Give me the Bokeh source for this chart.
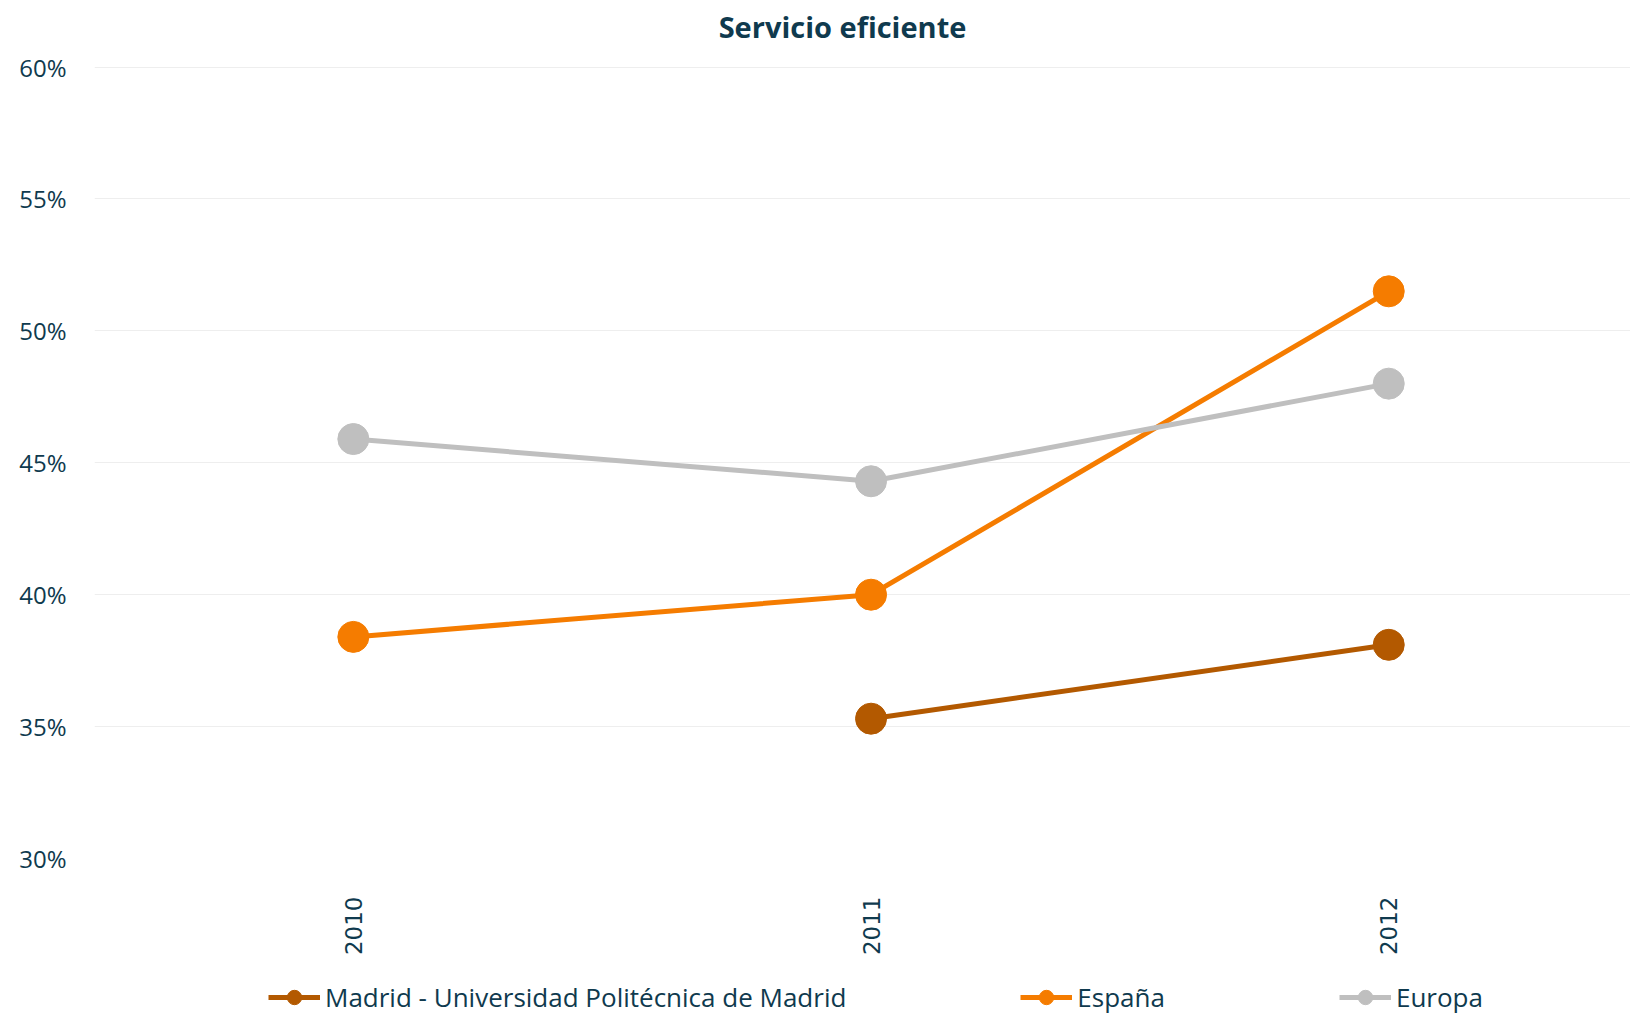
from bokeh.plotting import figure
from bokeh.layouts import column
from bokeh.models import ColumnDataSource, Legend, LegendItem, NumeralTickFormatter, FixedTicker, Label
from bokeh.embed import file_html
from bokeh.resources import INLINE
import math

years = [2010, 2011, 2012]
madrid = [None, 0.353, 0.381]
espana = [0.384, 0.400, 0.515]
europa = [0.459, 0.443, 0.480]
series_names = ["Madrid - Universidad Politécnica de Madrid", "España", "Europa"]
colors = ["#B35900", "#F57C00", "#BFBFBF"]
y_ticks = [0.30, 0.35, 0.40, 0.45, 0.50, 0.55, 0.60]
title_text = "Servicio eficiente"

TXT = "#0F3A4E"

# header strip holding the title
ph = figure(width=1630, height=46, output_backend="svg", toolbar_location=None,
            x_range=(0, 1), y_range=(0, 1), min_border=0)
ph.outline_line_color = None
ph.axis.visible = False
ph.grid.visible = False
ph.add_layout(Label(x=748, y=20, x_units="screen", y_units="screen", text=title_text,
                    text_align="center", text_baseline="middle", text_font="Open Sans",
                    text_font_style="bold", text_font_size="29px", text_color=TXT))

p = figure(width=1630, height=933, output_backend="svg", toolbar_location=None,
           x_range=(2009.5, 2012.467), y_range=(0.30, 0.6078),
           min_border_left=94, min_border_right=0, min_border_top=0, min_border_bottom=121)
p.outline_line_color = None
p.background_fill_color = "white"

sources = []
for name, vals, col in zip(series_names, [madrid, espana, europa], colors):
    xs = [x for x, v in zip(years, vals) if v is not None]
    ys = [v for v in vals if v is not None]
    src = ColumnDataSource(dict(x=xs, y=ys))
    sources.append(src)
    p.line("x", "y", source=src, line_color=col, line_width=5)
    p.scatter("x", "y", source=src, size=31, fill_color=col, line_color=col)

p.yaxis.ticker = FixedTicker(ticks=y_ticks)
p.yaxis.formatter = NumeralTickFormatter(format="0%")
p.xaxis.ticker = FixedTicker(ticks=years)
for ax in [p.xaxis[0], p.yaxis[0]]:
    ax.axis_line_color = None
    ax.major_tick_line_color = None
    ax.minor_tick_line_color = None
    ax.major_tick_out = 0
    ax.major_tick_in = 0
    ax.major_label_text_color = TXT
p.yaxis.major_label_text_font = "Open Sans"
p.yaxis.major_label_text_font_size = "24px"
p.yaxis.major_label_standoff = 28
p.xaxis.major_label_text_font = "DejaVu Sans"
p.xaxis.major_label_text_font_size = "23px"
p.xaxis.major_label_orientation = math.pi / 2
p.xaxis.major_label_standoff = 38

p.xgrid.grid_line_color = None
p.ygrid.grid_line_color = "#EEEEEE"
p.ygrid.grid_line_width = 1

# legend strip below the chart (series glyphs lie outside its view)
pl = figure(width=1630, height=36, output_backend="svg", toolbar_location=None,
            x_range=(0, 1), y_range=(0, 1), min_border=0)
pl.outline_line_color = None
pl.axis.visible = False
pl.grid.visible = False
items = []
for name, col, src in zip(series_names, colors, sources):
    r1 = pl.line("x", "y", source=src, line_color=col, line_width=5)
    r2 = pl.scatter("x", "y", source=src, size=15, fill_color=col, line_color=col)
    items.append(LegendItem(label=name, renderers=[r1, r2]))
legend = Legend(items=items, orientation="horizontal", location=(174, 0),
                spacing=174, padding=0, margin=0, border_line_color=None,
                background_fill_alpha=0, glyph_width=52, glyph_height=36,
                label_standoff=5, label_text_font="Open Sans", label_text_font_size="26px",
                label_text_color=TXT, label_height=36)
pl.add_layout(legend, "center")

layout = column(ph, p, pl, spacing=0)
open("out.html", "w").write(file_html(layout, INLINE))
